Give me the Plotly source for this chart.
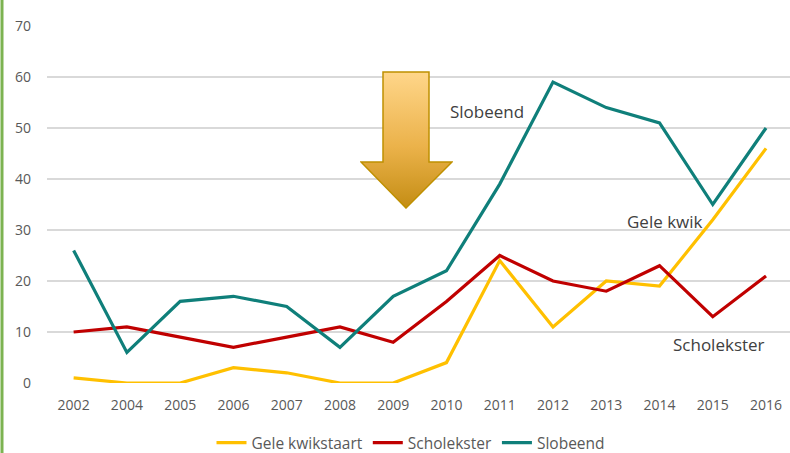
import base64
import plotly.graph_objects as go

years = ["2002", "2004", "2005", "2006", "2007", "2008", "2009", "2010",
         "2011", "2012", "2013", "2014", "2015", "2016"]
gele_kwikstaart = [1, 0, 0, 3, 2, 0, 0, 4, 24, 11, 20, 19, 32, 46]
scholekster = [10, 11, 9, 7, 9, 11, 8, 16, 25, 20, 18, 23, 13, 21]
slobeend = [26, 6, 16, 17, 15, 7, 17, 22, 39, 59, 54, 51, 35, 50]

series = [
    ("Gele kwikstaart", gele_kwikstaart, "#FFC000"),
    ("Scholekster", scholekster, "#C00000"),
    ("Slobeend", slobeend, "#0F7F7A"),
]

FONT = "Open Sans"
fig = go.Figure()
for name, vals, col in series:
    fig.add_trace(go.Scatter(x=years, y=vals, name=name, mode="lines",
                             line=dict(color=col, width=3.2)))

W, H = 790, 453
L, R, T, B = 47, 0, 26, 70
pw, ph = W - L - R, H - T - B

# arrow as svg image
svg = """<svg xmlns='http://www.w3.org/2000/svg' width='93' height='138' viewBox='0 0 93 138' preserveAspectRatio='none'>
<defs><linearGradient id='g' x1='0' y1='0' x2='0' y2='1'>
<stop offset='0' stop-color='#FFD68A'/><stop offset='0.55' stop-color='#EBB24A'/><stop offset='1' stop-color='#C48D14'/>
</linearGradient></defs>
<polygon points='23,1 69,1 69,91 92,91 46,137 1,91 23,91' fill='url(#g)' stroke='#BF9000' stroke-width='1.5'/>
</svg>"""
src = "data:image/svg+xml;base64," + base64.b64encode(svg.encode()).decode()
ax0, ay0, aw, ah = 360, 71, 93, 138
fig.add_layout_image(dict(source=src, xref="paper", yref="paper",
                          x=(ax0 - L) / pw, y=(H - B - ay0) / ph,
                          sizex=aw / pw, sizey=ah / ph,
                          xanchor="left", yanchor="top", sizing="stretch", layer="above"))

# green left border line
fig.add_shape(type="line", xref="paper", yref="paper",
              x0=(2 - L) / pw, x1=(2 - L) / pw, y0=-B / ph, y1=(H - B) / ph,
              line=dict(color="#7CB351", width=3))

labels = [("Slobeend", 487, 111), ("Gele kwik", 665, 221), ("Scholekster", 719, 344)]
for txt, px, py in labels:
    fig.add_annotation(text=txt, xref="paper", yref="paper",
                       x=(px - L) / pw, y=(H - B - py) / ph, showarrow=False,
                       xanchor="center", yanchor="middle",
                       font=dict(family=FONT, size=17, color="#404040"))

fig.update_layout(
    width=W, height=H,
    margin=dict(l=L, r=R, t=T, b=B, autoexpand=False),
    paper_bgcolor="white", plot_bgcolor="white",
    font=dict(family=FONT, size=14, color="#595959"),
    showlegend=True,
    legend=dict(orientation="h", x=(411 - L) / pw, xanchor="center",
                y=-(443 - (H - B)) / ph, yanchor="middle",
                font=dict(size=15.5, color="#595959"), itemwidth=30,
                tracegroupgap=0),
    xaxis=dict(type="category", range=[-0.5, 13.45], showgrid=False, zeroline=False,
               showline=False, ticks="", ticklabelstandoff=12,
               tickfont=dict(size=14, color="#595959")),
    yaxis=dict(range=[0, 70], dtick=10, showgrid=True, gridcolor="#D9D9D9", gridwidth=1.5,
               zeroline=False, showline=False, ticks="", ticklabelstandoff=15,
               tickfont=dict(size=14, color="#595959")),
)
fig.write_html("out.html", config={"displayModeBar": False},
               post_script="document.body.style.margin='0';document.body.style.overflow='hidden';")
